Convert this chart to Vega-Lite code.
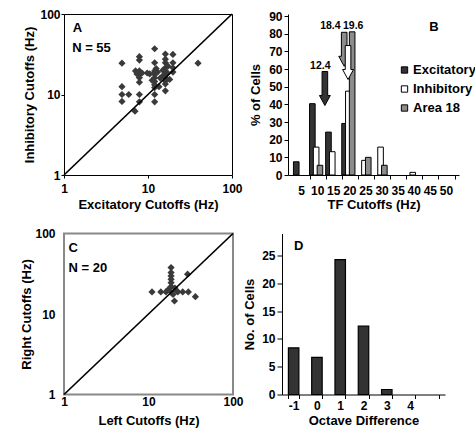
{
  "$schema": "https://vega.github.io/schema/vega-lite/v6.json",
  "padding": {"left": 19, "top": 7, "right": 0, "bottom": 0},
  "background": "white",
  "config": {
    "font": "Liberation Sans",
    "view": {"stroke": null},
    "axis": {
      "labelFont": "Liberation Sans", "labelFontSize": 12, "labelFontWeight": "bold", "labelColor": "black",
      "titleFont": "Liberation Sans", "titleFontSize": 13, "titleFontWeight": "bold", "titleColor": "black",
      "domainColor": "black", "tickColor": "black", "grid": false, "labelFlush": false, "labelOverlap": false, "minExtent": 0
    },
    "text": {"font": "Liberation Sans", "fontWeight": "bold", "color": "black"}
  },
  "datasets": {
    "scatterA": [
      {"x": 4.9, "y": 24.5}, {"x": 4.9, "y": 12.5}, {"x": 4.9, "y": 10}, {"x": 4.9, "y": 8.2}, {"x": 5.9, "y": 10},
      {"x": 7.1, "y": 19.6}, {"x": 7.9, "y": 29.5}, {"x": 7.9, "y": 26.8}, {"x": 7.9, "y": 19.6}, {"x": 7.9, "y": 17.8},
      {"x": 7.9, "y": 16.2}, {"x": 7.9, "y": 14.2}, {"x": 7.9, "y": 10}, {"x": 7.9, "y": 8.1}, {"x": 7.4, "y": 18},
      {"x": 7.0, "y": 6.2}, {"x": 9.8, "y": 18.5}, {"x": 8.5, "y": 18.5}, {"x": 10.5, "y": 18},
      {"x": 12, "y": 37}, {"x": 12, "y": 24.8}, {"x": 12, "y": 19.6}, {"x": 12, "y": 18.5}, {"x": 12, "y": 17.8},
      {"x": 12, "y": 16.2}, {"x": 12, "y": 14.5}, {"x": 12, "y": 13.2}, {"x": 12, "y": 12.2}, {"x": 12, "y": 10},
      {"x": 12, "y": 8.1}, {"x": 11.2, "y": 15}, {"x": 13, "y": 19}, {"x": 12.5, "y": 21}, {"x": 13.5, "y": 12.5},
      {"x": 14, "y": 16}, {"x": 16.1, "y": 31.8}, {"x": 16.1, "y": 27.5}, {"x": 16.1, "y": 24.8}, {"x": 16.1, "y": 21.5},
      {"x": 16.1, "y": 19.6}, {"x": 16.1, "y": 17.8}, {"x": 16.1, "y": 16.2}, {"x": 16.1, "y": 14.7}, {"x": 16.1, "y": 13.5},
      {"x": 16.1, "y": 11.1}, {"x": 15, "y": 20}, {"x": 15, "y": 17}, {"x": 17, "y": 18.5},
      {"x": 19.8, "y": 31.5}, {"x": 19.8, "y": 24.8}, {"x": 19.8, "y": 21.5}, {"x": 19.8, "y": 19}, {"x": 18.1, "y": 15.4},
      {"x": 17.3, "y": 22.5}, {"x": 39.4, "y": 24.5}
    ],
    "scatterC": [
      {"x": 18.5, "y": 37.7}, {"x": 18.5, "y": 32.7}, {"x": 18.5, "y": 29.7}, {"x": 18.5, "y": 27}, {"x": 18.5, "y": 24.5},
      {"x": 18.5, "y": 21.9}, {"x": 11, "y": 18.8}, {"x": 14, "y": 18.8}, {"x": 16.1, "y": 18.8}, {"x": 18.5, "y": 18.8},
      {"x": 22.2, "y": 18.8}, {"x": 25.4, "y": 18.8}, {"x": 29.6, "y": 18.8}, {"x": 29, "y": 31.2}, {"x": 20.3, "y": 14.5},
      {"x": 35.9, "y": 16.4}, {"x": 20.5, "y": 21}, {"x": 21.5, "y": 19.5}, {"x": 19.5, "y": 17.5}, {"x": 17, "y": 20}
    ],
    "hist": [
      {"tf": 5, "series": "Excitatory", "pct": 7.5},
      {"tf": 10, "series": "Excitatory", "pct": 40.4},
      {"tf": 10, "series": "Inhibitory", "pct": 15.8},
      {"tf": 10, "series": "Area 18", "pct": 5.5},
      {"tf": 15, "series": "Excitatory", "pct": 24.3},
      {"tf": 15, "series": "Inhibitory", "pct": 13.2},
      {"tf": 20, "series": "Excitatory", "pct": 29.2},
      {"tf": 20, "series": "Inhibitory", "pct": 47.5},
      {"tf": 20, "series": "Area 18", "pct": 81.1},
      {"tf": 25, "series": "Inhibitory", "pct": 8.3},
      {"tf": 25, "series": "Area 18", "pct": 10},
      {"tf": 30, "series": "Inhibitory", "pct": 15.8},
      {"tf": 30, "series": "Area 18", "pct": 5.5},
      {"tf": 40, "series": "Inhibitory", "pct": 1.5}
    ],
    "arrows": [
      {"tf": 12.4, "pct": 49, "series": "Excitatory"},
      {"tf": 18.4, "pct": 71.2, "series": "Area 18"},
      {"tf": 19.6, "pct": 63.7, "series": "Inhibitory"}
    ],
    "arrowLabels": [
      {"tf": 10.98, "pct": 61.7, "t": "12.4"},
      {"tf": 14.1, "pct": 84.3, "t": "18.4"},
      {"tf": 21.2, "pct": 84.3, "t": "19.6"}
    ],
    "octave": [
      {"oct": "-1", "n": 8.4},
      {"oct": "0", "n": 6.7},
      {"oct": "1", "n": 24.3},
      {"oct": "2", "n": 12.3},
      {"oct": "3", "n": 0.9}
    ]
  },
  "resolve": {"scale": {"color": "independent"}, "legend": {"color": "independent"}},
  "vconcat": [
    {
      "resolve": {"scale": {"color": "independent"}, "legend": {"color": "independent"}},
      "bounds": "flush",
      "hconcat": [
        {
          "width": 168, "height": 161,
          "view": {"stroke": "black", "strokeWidth": 1},
          "layer": [
            {
              "data": {"name": "scatterA"},
              "mark": {"type": "point", "shape": "diamond", "filled": true, "color": "#3a3a3a", "size": 52, "opacity": 1},
              "encoding": {
                "x": {"field": "x", "type": "quantitative", "scale": {"type": "log", "domain": [1, 100], "nice": false},
                      "axis": {"title": "Excitatory Cutoffs (Hz)", "values": [1, 10, 100], "tickCount": 20, "format": "d", "domain": false, "tickSize": 3, "labelPadding": 5, "titlePadding": 4.5, "labelFlush": false}},
                "y": {"field": "y", "type": "quantitative", "scale": {"type": "log", "domain": [1, 100], "nice": false},
                      "axis": {"title": "Inhibitory Cutoffs (Hz)", "values": [1, 10, 100], "tickCount": 20, "format": "d", "domain": false, "tickSize": 3, "labelPadding": 1, "titlePadding": 3}}
              }
            },
            {
              "data": {"values": [{}]},
              "mark": {"type": "rule", "color": "black", "strokeWidth": 1.7},
              "encoding": {
                "x": {"datum": 1, "type": "quantitative"}, "y": {"datum": 1, "type": "quantitative"},
                "x2": {"datum": 100}, "y2": {"datum": 100}
              }
            },
            {
              "data": {"values": [{"x": 1.27, "y": 67, "t": "A"}, {"x": 1.25, "y": 38, "t": "N = 55"}]},
              "mark": {"type": "text", "align": "left", "baseline": "middle", "fontSize": 13, "fontWeight": "bold"},
              "encoding": {
                "x": {"field": "x", "type": "quantitative"},
                "y": {"field": "y", "type": "quantitative"},
                "text": {"field": "t"}
              }
            }
          ]
        },
        {
          "width": 171, "height": 161,
          "layer": [
            {
              "data": {"name": "hist"},
              "transform": [{"filter": "datum.series === 'Excitatory'"}],
              "mark": {"type": "bar", "orient": "vertical", "width": 5.6, "xOffset": -4.8, "stroke": "black", "strokeWidth": 1},
              "encoding": {
                "x": {"field": "tf", "type": "quantitative", "scale": {"domain": [2.5, 52.5], "nice": false, "zero": false},
                      "axis": {"title": "TF Cutoffs (Hz)", "values": [5, 10, 15, 20, 25, 30, 35, 40, 45, 50], "tickCount": 20, "format": "d", "tickOffset": 8.55, "labelOffset": -8.55, "tickSize": 4, "labelPadding": 6, "titlePadding": 2, "labelFlush": false}},
                "y": {"field": "pct", "type": "quantitative", "stack": null, "scale": {"domain": [0, 91.2], "nice": false},
                      "axis": {"title": "% of Cells", "values": [0, 10, 20, 30, 40, 50, 60, 70, 80, 90], "tickCount": 20, "tickSize": 4, "labelPadding": 2, "titlePadding": 6}},
                "color": {"field": "series", "type": "nominal",
                          "scale": {"domain": ["Excitatory", "Inhibitory", "Area 18"], "range": ["#333333", "#ffffff", "#8c8c8c"]},
                          "legend": {"orient": "none", "legendX": 110, "legendY": 49.5, "title": null, "padding": 0,
                                     "symbolType": "square", "symbolSize": 40, "symbolStrokeColor": "black", "symbolStrokeWidth": 1,
                                     "labelFont": "Liberation Sans", "labelFontSize": 13, "labelFontWeight": "bold", "labelColor": "black",
                                     "rowPadding": 5, "labelOffset": 2}}
              }
            },
            {
              "data": {"name": "hist"},
              "transform": [{"filter": "datum.series === 'Inhibitory'"}],
              "mark": {"type": "bar", "orient": "vertical", "width": 5.6, "xOffset": -1, "stroke": "black", "strokeWidth": 1},
              "encoding": {
                "x": {"field": "tf", "type": "quantitative"},
                "y": {"field": "pct", "type": "quantitative", "stack": null},
                "color": {"field": "series", "type": "nominal"}
              }
            },
            {
              "data": {"name": "hist"},
              "transform": [{"filter": "datum.series === 'Area 18'"}],
              "mark": {"type": "bar", "orient": "vertical", "width": 5.6, "xOffset": 2.8, "stroke": "black", "strokeWidth": 1},
              "encoding": {
                "x": {"field": "tf", "type": "quantitative"},
                "y": {"field": "pct", "type": "quantitative", "stack": null},
                "color": {"field": "series", "type": "nominal"}
              }
            },
            {
              "data": {"name": "arrows"},
              "mark": {"type": "point", "shape": "M -0.165 -1 L 0.165 -1 L 0.165 0.41 L 0.32 0.41 L 0 1 L -0.32 0.41 L -0.165 0.41 Z",
                       "size": 1156, "filled": true, "stroke": "black", "strokeWidth": 1, "opacity": 1},
              "encoding": {
                "x": {"field": "tf", "type": "quantitative"},
                "y": {"field": "pct", "type": "quantitative"},
                "color": {"field": "series", "type": "nominal"}
              }
            },
            {
              "data": {"name": "arrowLabels"},
              "mark": {"type": "text", "align": "center", "baseline": "middle", "fontSize": 10.5, "fontWeight": "bold"},
              "encoding": {
                "x": {"field": "tf", "type": "quantitative"},
                "y": {"field": "pct", "type": "quantitative"},
                "text": {"field": "t"}
              }
            },
            {
              "data": {"values": [{"tf": 46.3, "pct": 83.6, "t": "B"}]},
              "mark": {"type": "text", "align": "center", "baseline": "middle", "fontSize": 13, "fontWeight": "bold"},
              "encoding": {
                "x": {"field": "tf", "type": "quantitative"},
                "y": {"field": "pct", "type": "quantitative"},
                "text": {"field": "t"}
              }
            }
          ]
        }
      ],
      "spacing": 56
    },
    {
      "resolve": {"scale": {"color": "independent"}, "legend": {"color": "independent"}},
      "bounds": "flush",
      "hconcat": [
        {
          "width": 169, "height": 161,
          "view": {"stroke": "#888888", "strokeWidth": 2},
          "layer": [
            {
              "data": {"name": "scatterC"},
              "mark": {"type": "point", "shape": "diamond", "filled": true, "color": "#3a3a3a", "size": 52, "opacity": 1},
              "encoding": {
                "x": {"field": "x", "type": "quantitative", "scale": {"type": "log", "domain": [1, 100], "nice": false},
                      "axis": {"title": "Left Cutoffs (Hz)", "values": [1, 10, 100], "tickCount": 20, "format": "d", "domain": false, "ticks": false, "labelPadding": 2, "titlePadding": 6.8, "labelFlush": false}},
                "y": {"field": "y", "type": "quantitative", "scale": {"type": "log", "domain": [1, 100], "nice": false},
                      "axis": {"title": "Right Cutoffs (Hz)", "values": [1, 10, 100], "tickCount": 20, "format": "d", "domain": false, "ticks": false, "labelPadding": 9, "titlePadding": 1}}
              }
            },
            {
              "data": {"values": [{}]},
              "mark": {"type": "rule", "color": "black", "strokeWidth": 1.7},
              "encoding": {
                "x": {"datum": 1, "type": "quantitative"}, "y": {"datum": 1, "type": "quantitative"},
                "x2": {"datum": 100}, "y2": {"datum": 100}
              }
            },
            {
              "data": {"values": [{"x": 1.13, "y": 67, "t": "C"}, {"x": 1.13, "y": 37, "t": "N = 20"}]},
              "mark": {"type": "text", "align": "left", "baseline": "middle", "fontSize": 13, "fontWeight": "bold"},
              "encoding": {
                "x": {"field": "x", "type": "quantitative"},
                "y": {"field": "y", "type": "quantitative"},
                "text": {"field": "t"}
              }
            }
          ]
        },
        {
          "width": 163, "height": 161,
          "layer": [
            {
              "data": {"name": "octave"},
              "mark": {"type": "bar", "fill": "#333333", "stroke": "black", "strokeWidth": 1.2},
              "encoding": {
                "x": {"field": "oct", "type": "ordinal",
                      "scale": {"domain": ["-1", "0", "1", "2", "3", "4", "5"], "paddingInner": 0.55, "paddingOuter": 0.275},
                      "axis": {"title": "Octave Difference", "labelAngle": 0, "tickBand": "extent", "tickSize": 4, "labelPadding": 2, "titlePadding": 3,
                               "labelExpr": "datum.value == '5' ? '' : datum.label"}},
                "y": {"field": "n", "type": "quantitative", "scale": {"domain": [0, 29], "nice": false},
                      "axis": {"title": "No. of Cells", "values": [0, 5, 10, 15, 20, 25], "tickCount": 20, "tickSize": 5, "labelPadding": 2, "titlePadding": 5}}
              }
            },
            {
              "data": {"values": [{}]},
              "mark": {"type": "text", "text": "D", "dx": 5, "align": "center", "baseline": "middle", "fontSize": 13, "fontWeight": "bold"},
              "encoding": {
                "x": {"datum": "-1", "type": "ordinal"},
                "y": {"datum": 26.7, "type": "quantitative"}
              }
            }
          ]
        }
      ],
      "spacing": 49
    }
  ],
  "spacing": 14.5
}
